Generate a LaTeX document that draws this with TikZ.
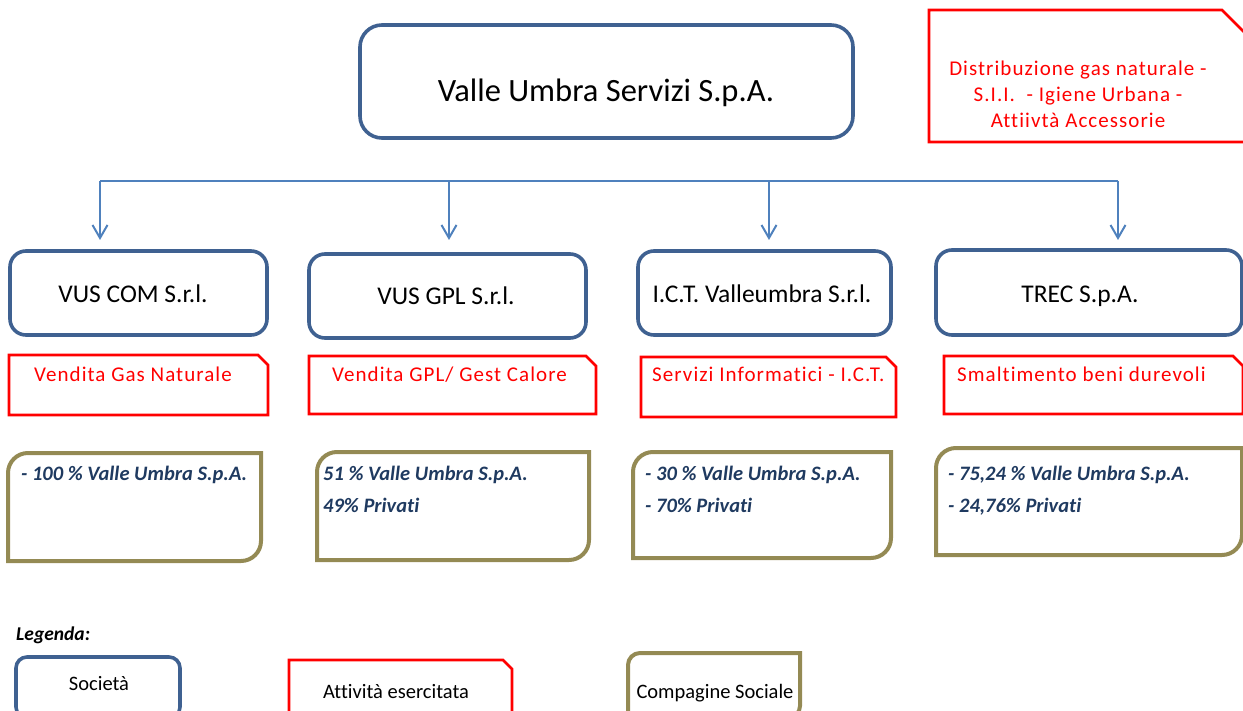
\documentclass[tikz,border=0pt]{standalone}
\usepackage{fontspec}
\setmainfont[Ligatures=NoCommon]{Carlito}
\newfontfamily\redf[LetterSpace=5,Ligatures=NoCommon]{Carlito}
\usetikzlibrary{arrows.meta,fit}
\definecolor{boxblue}{HTML}{3F6191}
\definecolor{lineblue}{HTML}{4F81BD}
\definecolor{olivec}{HTML}{948A54}
\definecolor{navy}{HTML}{1F3A60}
\newcommand\snipbox[2]{\draw[redline] (#1.north west) -- ([xshift=-#2]#1.north east) -- ([yshift=-#2]#1.north east) -- (#1.south east) -- (#1.south west) -- cycle;}
\newcommand\olivebox[2]{\draw[oliveline] (#1.west) [rounded corners=#2] -- (#1.north west) -- (#1.north) [sharp corners] -- (#1.north east) -- (#1.east) [rounded corners=#2] -- (#1.south east) -- (#1.south) [sharp corners] -- (#1.south west) -- cycle;}
\begin{document}
\begin{tikzpicture}[x=1pt,y=-1pt,
  area/.style={inner sep=0pt,outer sep=0pt},
  company/.style={area,draw=boxblue,line width=3.6pt,rounded corners=16pt},
  redline/.style={draw=red,line width=2.8pt,line join=miter},
  oliveline/.style={draw=olivec,line width=4pt},
  bar/.style={draw=lineblue,line width=2pt},
  arr/.style={draw=lineblue,line width=2pt,-{Straight Barb[length=13pt,width=15pt]}},
  maintext/.style={font=\fontsize{32.5}{36}\selectfont,anchor=base,inner sep=0pt},
  ctext/.style={font=\fontsize{25.5}{30}\selectfont,anchor=base,inner sep=0pt},
  rtext/.style={font=\redf\fontsize{21}{26}\selectfont,text=red,anchor=base west,inner sep=0pt},
  otext/.style={font=\fontsize{20.5}{24}\selectfont\bfseries\itshape,text=navy,anchor=base west,inner sep=0pt},
  ltext/.style={font=\fontsize{20.5}{24}\selectfont,anchor=base,inner sep=0pt},
]
\useasboundingbox (0,0) rectangle (1243,711);
\clip (0,0) rectangle (1243,711);

% main box
\node[company,rounded corners=22pt,fit={(360,25) (853,138)}] (main) {};
\node[maintext] (mainT) at (606,102) {Valle Umbra Servizi S.p.A.};

% top-right activity box
\node[area,fit={(929,10) (1250,142)}] (topr) {};
\snipbox{topr}{28pt}
\node[font=\redf\fontsize{21}{26}\selectfont,text=red,align=center,inner sep=0pt] (toprT) at (1078,94)
  {Distribuzione gas naturale -\\S.I.I. \ - Igiene Urbana -\\Attiivtà Accessorie};

% connector bar
\coordinate (b1) at (100,181);
\coordinate (b2) at (449,181);
\coordinate (b3) at (769,181);
\coordinate (b4) at (1118,181);
\coordinate (e1) at (100,240);
\coordinate (e2) at (449,240);
\coordinate (e3) at (769,240);
\coordinate (e4) at (1118,240);
\draw[bar] (b1) -- (b4);
\draw[arr] (b1) -- (e1);
\draw[arr] (b2) -- (e2);
\draw[arr] (b3) -- (e3);
\draw[arr] (b4) -- (e4);

% company boxes
\node[company,fit={(10,251) (267,335)}] (com) {};
\node[company,fit={(309,254) (586,338)}] (gpl) {};
\node[company,fit={(638,251) (891,335)}] (ict) {};
\node[company,fit={(936,250) (1242,335)}] (trec) {};
\node[ctext] (comT) at (133,303) {VUS COM S.r.l.};
\node[ctext] (gplT) at (446,305) {VUS GPL S.r.l.};
\node[ctext] (ictT) at (762,303) {I.C.T. Valleumbra S.r.l.};
\node[ctext] (trecT) at (1080,303) {TREC S.p.A.};

% activity boxes
\node[area,fit={(9,355) (268,415)}] (r1) {};
\node[area,fit={(309,356) (596,414)}] (r2) {};
\node[area,fit={(641,357) (896,417)}] (r3) {};
\node[area,fit={(944,356) (1243,414)}] (r4) {};
\snipbox{r1}{10pt}
\snipbox{r2}{10pt}
\snipbox{r3}{10pt}
\snipbox{r4}{10pt}
\node[rtext] (r1T) at (34,382) {Vendita Gas Naturale};
\node[rtext] (r2T) at (332,382) {Vendita GPL/ Gest Calore};
\node[rtext] (r3T) at (652,382) {Servizi Informatici - I.C.T.};
\node[rtext] (r4T) at (957,382) {Smaltimento beni durevoli};

% ownership boxes
\node[area,fit={(8,453) (261,561)}] (o1) {};
\node[area,fit={(317,452) (589,560)}] (o2) {};
\node[area,fit={(633,452) (891,558)}] (o3) {};
\node[area,fit={(936,448) (1242,555)}] (o4) {};
\olivebox{o1}{20pt}
\olivebox{o2}{20pt}
\olivebox{o3}{20pt}
\olivebox{o4}{20pt}
\node[otext] (o1a) at (21,480) {- 100 \% Valle Umbra S.p.A.};
\node[otext] (o2a) at (323,480) {51 \% Valle Umbra S.p.A.};
\node[otext] (o2b) at (323,512) {49\% Privati};
\node[otext] (o3a) at (645,480) {- 30 \% Valle Umbra S.p.A.};
\node[otext] (o3b) at (645,512) {- 70\% Privati};
\node[otext] (o4a) at (948,480) {- 75,24 \% Valle Umbra S.p.A.};
\node[otext] (o4b) at (948,512) {- 24,76\% Privati};

% legend
\node[font=\fontsize{19.5}{22}\selectfont\bfseries\itshape,anchor=base west,inner sep=0pt] (leg) at (16,640) {Legenda:};
\node[company,rounded corners=11pt,fit={(16,657) (180,718)}] (lsoc) {};
\node[area,fit={(289,660) (512,718)}] (latt) {};
\snipbox{latt}{9pt}
\node[area,fit={(628,653) (800,718)}] (lcomp) {};
\olivebox{lcomp}{12pt}
\node[ltext] (lsocT) at (99,690) {Società};
\node[ltext] (lattT) at (396,698) {Attività esercitata};
\node[ltext] (lcompT) at (715,698) {Compagine Sociale};
\end{tikzpicture}
\end{document}
